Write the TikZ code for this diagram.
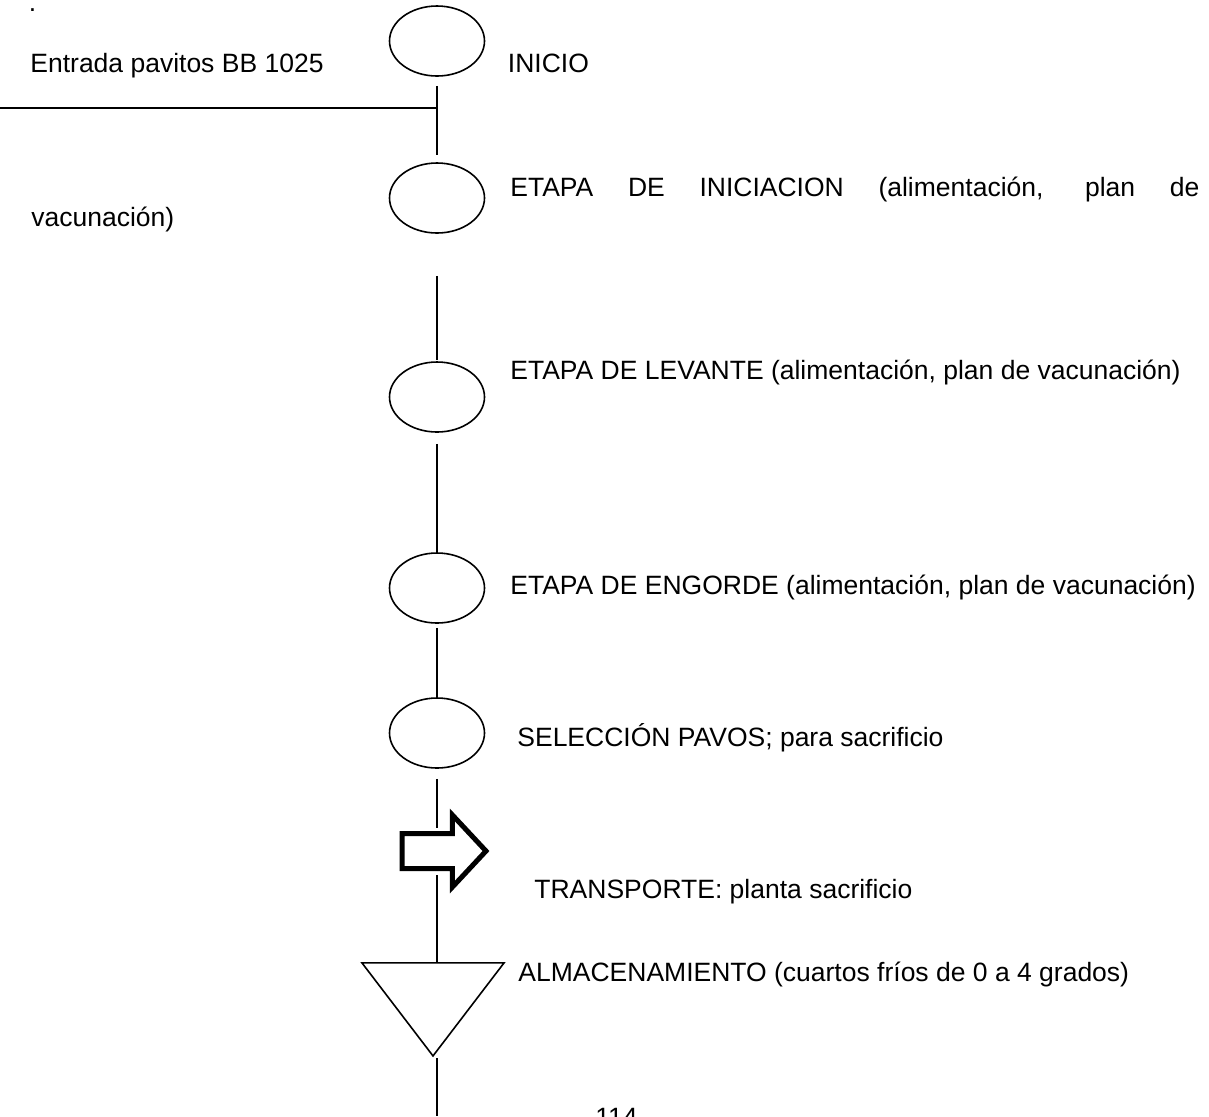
\documentclass[tikz,border=0pt]{standalone}
\usepackage{fontspec}
\setmainfont{Liberation Sans}
\usetikzlibrary{shapes.geometric,shapes.arrows}
\tikzset{
stage/.style={draw,ellipse,line width=.8pt,minimum width=47.5pt,minimum height=35pt,inner sep=0pt},
storebox/.style={draw,isosceles triangle,isosceles triangle stretches,shape border rotate=270,line width=.8pt,minimum width=71pt,minimum height=46.5pt,inner sep=0pt},
moveblock/.style={draw,fill=white,single arrow,line width=2.5pt,inner xsep=0pt,inner ysep=7.5pt,minimum height=42pt,single arrow head extend=9.25pt,single arrow tip angle=94},
link/.style={line width=.8pt},
lbl/.style={anchor=base west,inner sep=0pt,font=\fontsize{13.25pt}{15.2pt}\selectfont}
}

\begin{document}
\begin{tikzpicture}[x=.5pt,y=-.5pt]
\useasboundingbox (0,0) rectangle (1209,1116);
% process symbols
\node[stage] (e1) at (437,41) {};
\node[stage] (e2) at (437,198) {};
\node[stage] (e3) at (437,397) {};
\node[stage] (e4) at (437,588) {};
\node[stage] (e5) at (437,733) {};
\node[moveblock,anchor=tail] (transp) at (399.5,851) {};
\node[storebox,anchor=apex] (alm) at (433,1058) {};
\coordinate (inlet) at (0,108);
\coordinate (join) at (437,108);
\coordinate (t1) at (437,828);
\coordinate (t2) at (437,875);
\coordinate (bot) at (437,1116);
% labels
\node[lbl] (dot) at (28.5,11) {.};
\node[lbl] (entrada) at (30,72) {Entrada pavitos BB 1025};
\node[lbl] (inicio) at (507.5,72.5) {INICIO};
\node[lbl] (iniciacion) at (510,196) {\makebox[344.5pt][s]{ETAPA DE INICIACION (alimentación, plan de}};
\node[lbl] (vacuna) at (31,226) {vacunación)};
\node[lbl] (levante) at (510,379.5) {ETAPA DE LEVANTE (alimentación, plan de vacunación)};
\node[lbl] (engorde) at (510,594.5) {ETAPA DE ENGORDE (alimentación, plan de vacunación)};
\node[lbl] (seleccion) at (517,746.5) {SELECCIÓN PAVOS; para sacrificio};
\node[lbl] (transporte) at (534,898) {TRANSPORTE: planta sacrificio};
\node[lbl] (almacen) at (518,981.5) {ALMACENAMIENTO (cuartos fríos de 0 a 4 grados)};
\node[lbl] (pagina) at (595,1126) {114};
% connectors
\draw[link] (inlet) -- (join);
\draw[link,shorten <=4.5pt,shorten >=3.5pt] (e1) -- (e2);
\draw[link,shorten <=21pt,shorten >=.5pt] (e2) -- (e3);
\draw[link,shorten <=5.5pt] (e3) -- (e4);
\draw[link,shorten <=2pt] (e4) -- (e5);
\draw[link,shorten <=5pt] (e5) -- (t1);
\draw[link] (t2) -- (t2 |- alm.left corner);
\draw[link] (bot |- alm.apex) -- (bot);
\end{tikzpicture}
\end{document}
